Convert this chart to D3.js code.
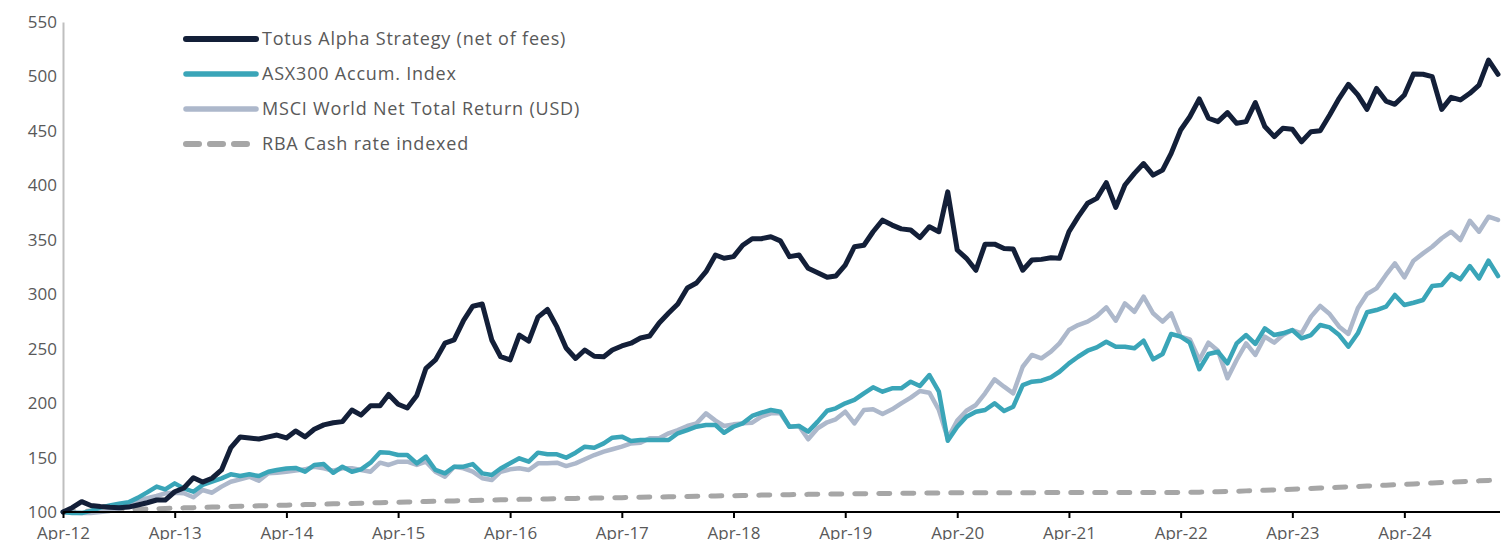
<!DOCTYPE html>
<html>
<head>
<meta charset="utf-8">
<script src="https://cdn.jsdelivr.net/npm/d3@7"></script>
<style>
  body { margin: 0; background: #fff; }
  #my_dataviz { width: 1503px; height: 540px; overflow: hidden; }
  text { font-family: "Open Sans", Lato, sans-serif; fill: #595959; }
</style>
</head>
<body>
<div id="my_dataviz"></div>
<script>
// monthly index values, Apr-12 .. Feb-25
const totus = [100,104,109.5,106,105,104.3,104,104.5,106.4,108.5,111,111,118.6,122,131.5,127.5,131,138.6,158.8,168.9,
  168,167,169,170.7,168,174.4,169,176,180,182,183,193.7,189,197.6,197.6,208,199,195.5,207,232,
  239.6,255,258,276,289,291,258,242.6,239.6,262.5,257,279,286,270,250.6,241,248.8,243,242.6,248.8,
  252.5,255,259.8,261.6,273.6,282.7,291,305.7,310.3,320.7,336,333,334.5,345,351,351,352.8,349,334.5,336,
  323.8,319.8,315.5,316.7,326.8,343.6,345,357.4,368,363.5,360,359,352,362,357.4,394,340.6,333,322,346,
  346,342,341.5,322,331.4,332,333.5,333,357.4,371,383.5,388,402.4,379.8,400.3,411,420,409.4,414,429.4,
  450.8,463,479.3,461.6,458.5,466.8,457,458.5,476,454,444.7,452.4,451.5,440,449.3,450.2,464.6,479.9,492.8,483,
  469.8,489,477.4,474.4,483,502.2,502,499.8,469.8,480.8,478.4,484.5,492.1,515,502];

const asx300 = [100,99,99,101,104,106,107.5,109,113,118,123.3,120.8,126.3,121.7,118.6,124.8,127.8,130.9,134.6,133,
  134.6,133,137,138.6,140,140.5,137,143.2,144,136,141.6,137,139.2,145.3,154.8,154.5,152.3,152.3,144.7,150.8,
  138.6,135.5,141.6,141.6,144,135.5,134,140,144.7,149.3,146.2,154.5,153,153,149.9,154.5,160,159,163,168.2,
  169.2,165.2,166.1,166.1,166.1,166.1,172.3,175.3,178.3,179.9,179.9,172.8,178.3,181.4,188.2,191.2,193.7,192.1,178.3,179,
  173.8,183,193,195.2,199.8,202.9,209,214.5,210.5,213.6,213.6,219.7,215.7,225.8,210.5,165.5,178.3,187.5,192.1,193.7,
  199.8,192.8,196.7,216.6,219.7,220.6,223.7,228.8,236.5,242.6,248.1,251.2,256.4,251.8,251.8,250.3,257.3,240.2,245.1,263.5,
  261,255.5,231.1,245.1,247.2,236.5,254.9,262.5,254.3,268.7,262.5,264.1,267.1,259.5,262.5,271.7,269.5,262.5,251.8,264.1,
  283.4,285.5,288.5,299.3,290.1,292.2,294.7,307.5,308.5,318.6,313.7,325.9,314.6,330.8,316.7];

const msci = [100,99.5,99,99,100,101,103,106,111,112.6,114.7,117.2,117.7,117.2,113.5,120.2,117.7,123.3,127.8,130,
  132.4,128.7,135.5,136,137,138,139.2,141.6,140.1,137.9,140.1,140.1,138.6,137,145.3,143.2,146.2,146.2,143.2,146.2,
  137,132.4,141.6,140.1,137,131,129.4,137,139.2,140.1,138.6,144.7,144.7,145.3,142.2,144.7,148.4,152.3,155.4,157.6,
  160,163,163.7,167.7,167.7,172.3,175.3,179,181.4,190.6,183.9,179,180.5,181.4,182,187.5,190.6,190.6,178.3,179,
  166.8,176.9,182.4,185.1,192.1,181.4,193.7,194.3,190,194.3,199.8,205,211.1,209.6,193.7,167.7,183.9,193,198.3,209,
  221.8,215.1,209,233.4,244.2,241.1,247.2,254.9,267.1,271.7,274.8,280,288,275.7,291.6,283.9,297.7,282.5,274.8,282.5,
  261,258.6,239.6,255.5,248.1,222.8,239.6,254.9,244.2,261,255.5,262.5,267.1,264.1,279.4,289.2,281.8,270.2,263.5,287.1,
  300.2,305.4,317.7,328.4,315.5,330.8,337.5,343.6,351.4,357.4,349.8,367.5,357.4,371.2,368.2];

const rbaCash = [100,100.3,100.6,100.9,101.2,101.5,101.8,102.1,102.4,102.7,103,103.3,103.6,103.8,104,104.3,104.5,104.7,105,105.2,
  105.4,105.7,105.9,106.1,106.3,106.6,106.8,107,107.2,107.5,107.7,107.9,108.1,108.4,108.6,108.8,109,109.2,109.4,109.6,
  109.8,110,110.2,110.4,110.6,110.8,111,111.2,111.4,111.6,111.7,111.9,112,112.2,112.3,112.5,112.6,112.8,112.9,113.1,
  113.2,113.4,113.5,113.7,113.8,114,114.1,114.3,114.4,114.6,114.7,114.9,115,115.2,115.3,115.5,115.6,115.8,115.9,116.1,
  116.2,116.3,116.4,116.5,116.6,116.7,116.8,116.9,117,117.1,117.2,117.3,117.4,117.5,117.5,117.6,117.6,117.6,117.6,117.7,
  117.7,117.7,117.7,117.7,117.7,117.8,117.8,117.8,117.8,117.8,117.8,117.8,117.8,117.8,117.9,117.9,117.9,117.9,117.9,117.9,
  118,118.1,118.2,118.4,118.6,118.8,119.1,119.4,119.7,120,120.3,120.6,121,121.3,121.6,122,122.4,122.7,123.1,123.5,
  123.8,124.2,124.6,125,125.4,125.8,126.2,126.6,127,127.4,127.8,128.2,128.6,129,129.4];

const seriesNames = ["Totus Alpha Strategy (net of fees)", "ASX300 Accum. Index",
  "MSCI World Net Total Return (USD)", "RBA Cash rate indexed"];
const yTicks = [100,150,200,250,300,350,400,450,500,550];
const xTickLabels = ["Apr-12","Apr-13","Apr-14","Apr-15","Apr-16","Apr-17","Apr-18",
  "Apr-19","Apr-20","Apr-21","Apr-22","Apr-23","Apr-24"];

// months for the category axis
const months = d3.timeMonth.range(new Date(2012, 3, 1), new Date(2025, 2, 1));
const parseLabel = d3.timeParse("%b-%y");
const formatLabel = d3.timeFormat("%b-%y");

const svg = d3.select("#my_dataviz")
  .append("svg")
  .attr("width", 1503)
  .attr("height", 540);

const x = d3.scaleTime()
  .domain([months[0], months[months.length - 1]])
  .range([63, 1498]);

const y = d3.scaleLinear()
  .domain([100, 550])
  .range([512, 22]);

// y axis (no ticks, just a light line and labels)
const yAxis = svg.append("g")
  .attr("transform", "translate(63,0)")
  .call(d3.axisLeft(y).tickValues(yTicks).tickSize(0).tickPadding(6));
yAxis.select(".domain").attr("stroke", "#bfbfbf").attr("stroke-width", 2);
yAxis.selectAll("text").style("font-size", "17px").attr("fill", "#595959");

// series lines
const series = [
  {name: seriesNames[3], values: rbaCash, color: "#a6a6a6", width: 5, dash: "11,13"},
  {name: seriesNames[2], values: msci, color: "#adb8cb", width: 4.5, dash: null},
  {name: seriesNames[1], values: asx300, color: "#3aa5b8", width: 4.5, dash: null},
  {name: seriesNames[0], values: totus, color: "#131f38", width: 5, dash: null}
];

const line = d3.line()
  .x(function(d, i) { return x(months[i]); })
  .y(function(d) { return y(d); });

series.forEach(function(s) {
  svg.append("path")
    .datum(s.values)
    .attr("fill", "none")
    .attr("stroke", s.color)
    .attr("stroke-width", s.width)
    .attr("stroke-linejoin", "round")
    .attr("stroke-linecap", "round")
    .attr("stroke-dasharray", s.dash)
    .attr("d", line);
});

// x axis at the bottom (labels run off the bottom edge, as in the original)
const xAxis = svg.append("g")
  .attr("transform", "translate(0,512)")
  .call(d3.axisBottom(x)
    .tickValues(xTickLabels.map(parseLabel))
    .tickFormat(formatLabel)
    .tickSizeInner(6).tickSizeOuter(0).tickPadding(9));
xAxis.select(".domain").attr("stroke", "#000").attr("stroke-width", 2).attr("d", "M63,0H1500");
xAxis.selectAll(".tick line").attr("stroke", "#000").attr("stroke-width", 2);
xAxis.selectAll("text").style("font-size", "17px").attr("fill", "#595959");

// legend
const legend = svg.append("g").attr("transform", "translate(186,39)");
const legendItems = series.slice().reverse();
legendItems.forEach(function(s, i) {
  const g = legend.append("g").attr("transform", "translate(0," + (i * 35) + ")");
  g.append("line")
    .attr("x1", 0).attr("x2", s.dash ? 66 : 70)
    .attr("y1", 0).attr("y2", 0)
    .attr("stroke", s.color)
    .attr("stroke-width", s.width + 1)
    .attr("stroke-linecap", "round")
    .attr("stroke-dasharray", s.dash ? "13,11" : null);
  g.append("text")
    .attr("x", 76)
    .attr("y", 0)
    .attr("dy", "0.35em")
    .style("font-size", "18px")
    .style("letter-spacing", "0.8px")
    .text(s.name);
});
</script>
</body>
</html>
